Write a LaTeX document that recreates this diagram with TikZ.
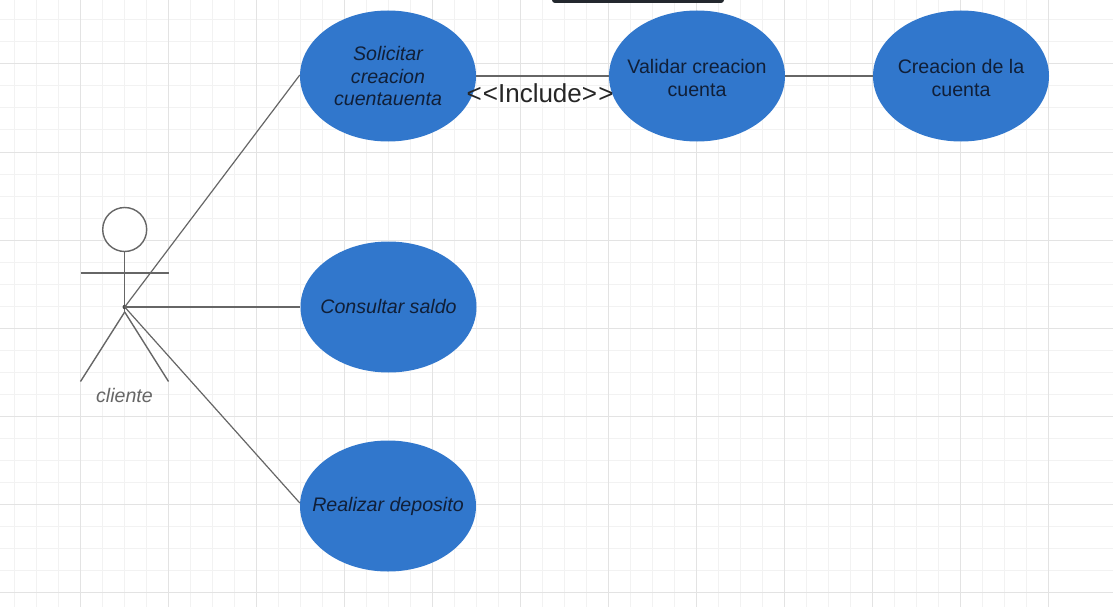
\documentclass[tikz,border=0pt]{standalone}
\usepackage{fontspec}
\setmainfont{Liberation Sans}
\usetikzlibrary{shapes.geometric}
\definecolor{ucblue}{HTML}{3177CC}
\definecolor{uctext}{HTML}{101F38}
\definecolor{linegray}{HTML}{666666}
\definecolor{gridminor}{HTML}{F2F2F2}
\definecolor{gridmajor}{HTML}{E3E3E3}
\definecolor{barcolor}{HTML}{23282E}
\newcommand{\ucfont}{\fontsize{19.6}{22.6}\selectfont}
\newcommand{\topstrut}{\rule{0pt}{18.5pt}}
\tikzset{
  usecase/.style={ellipse,fill=ucblue,draw=none,minimum width=176pt,minimum height=131pt,inner xsep=-20pt,inner ysep=0pt,align=center,font=\ucfont,text=uctext},
  ucitalic/.style={usecase,font=\itshape\ucfont},
  link/.style={draw=linegray,line width=1.2pt},
  stick/.style={draw=linegray,line width=1.4pt},
}
\begin{document}
\begin{tikzpicture}[x=1pt,y=-1pt]
\useasboundingbox (0,0) rectangle (1113,607);
\fill[white] (0,0) rectangle (1113,607);
% grid
\foreach \i in {-3,...,47} {
  \draw[gridminor,line width=1pt] ({14+22*\i},0) -- ({14+22*\i},607);
  \draw[gridminor,line width=1pt] (0,{20+22*\i}) -- (1113,{20+22*\i});
}
\foreach \i in {0,...,11} {
  \draw[gridmajor,line width=1pt] ({80+88*\i},0) -- ({80+88*\i},607);
}
\foreach \i in {0,...,6} {
  \draw[gridmajor,line width=1pt] (0,{64+88*\i}) -- (1113,{64+88*\i});
}
% toolbar edge
\fill[barcolor,rounded corners=3pt] (552,-8) rectangle (724,3);
% actor
\node[circle,draw=linegray,line width=1.4pt,fill=white,minimum size=44pt,inner sep=0pt] (head) at (124.7,229.5) {};
\coordinate (crotch) at (124.7,312);
\coordinate (hub) at (124.7,307);
\coordinate (armL) at (80.5,273);
\coordinate (armR) at (168.5,273);
\coordinate (footL) at (80.5,381.5);
\coordinate (footR) at (168.5,381.5);
\draw[stick] (head.south) -- (crotch);
\draw[stick] (armL) -- (armR);
\draw[stick] (crotch) -- (footL);
\draw[stick] (crotch) -- (footR);
\fill[linegray!70!black] (hub) circle (2.2pt);
\node[font=\itshape\ucfont,text=linegray] (cliente) at (124.5,395.5) {cliente};
% use cases
\node[ucitalic] (solicitar) at (388,76) {Solicitar\\creacion\\cuentauenta};
\node[usecase] (validar) at (697,76) {\topstrut Validar creacion\\cuenta};
\node[usecase] (creacion) at (961,76) {\topstrut Creacion de la\\cuenta};
\node[ucitalic,text depth=2pt] (consultar) at (388.5,307) {Consultar saldo};
\node[ucitalic] (realizar) at (388,506) {Realizar deposito};
% connectors
\draw[link] ([yshift=1pt]solicitar.west) -- (hub);
\draw[link] (hub) -- (consultar.west);
\draw[link] (hub) -- ([yshift=3pt]realizar.west);
\draw[link] (solicitar.east) -- (validar.west);
\draw[link] (validar.east) -- (creacion.west);
\node[font=\fontsize{26}{28}\selectfont,text=black!85] (include) at (540,93.5) {<\kern1.2pt<Include>\kern1.2pt>};
\end{tikzpicture}
\end{document}
